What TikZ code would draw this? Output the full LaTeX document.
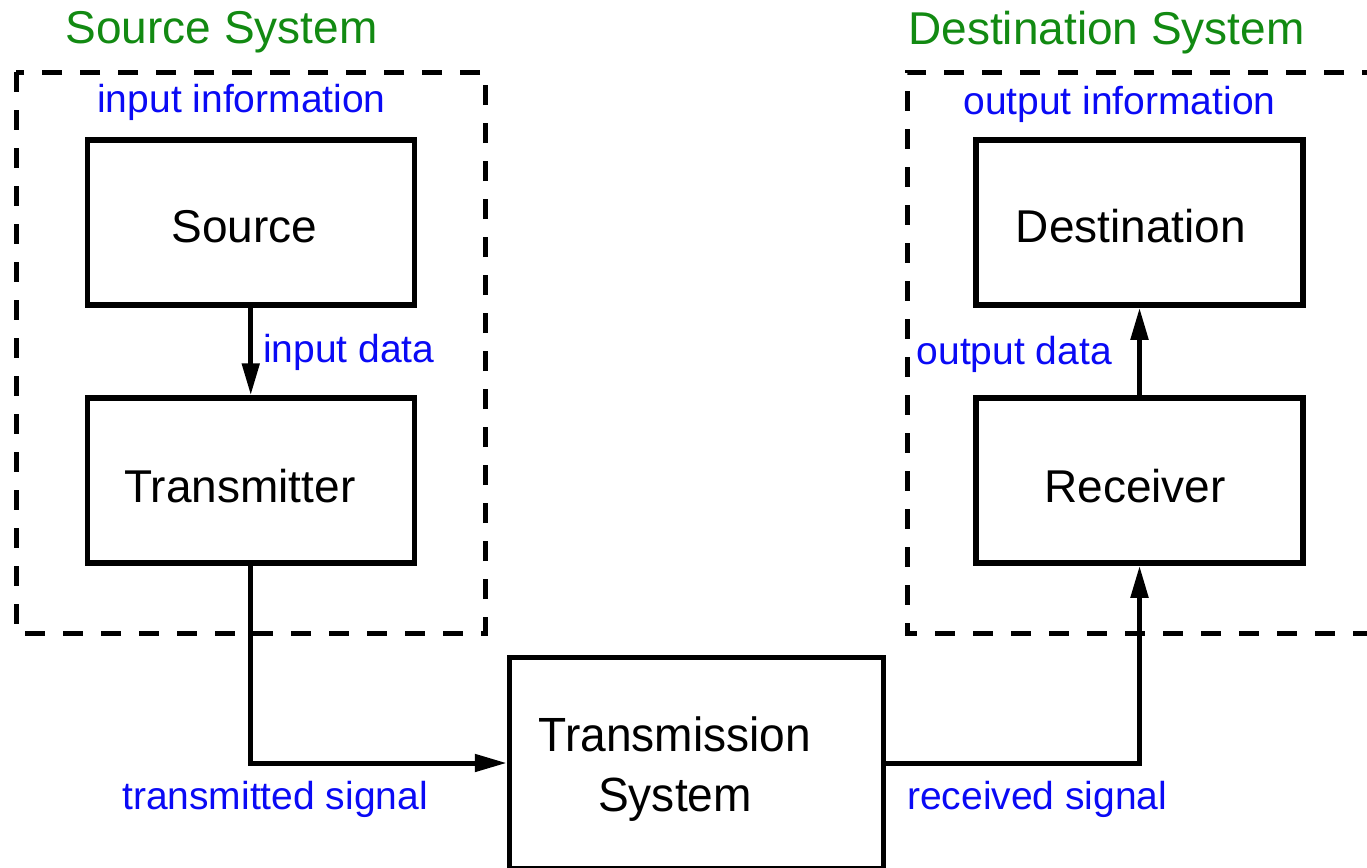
\documentclass[tikz,border=0pt]{standalone}
\usepackage{fontspec}
\setmainfont{Liberation Sans}
\usetikzlibrary{arrows.meta}

\definecolor{titlegreen}{RGB}{18,138,18}
\definecolor{labelblue}{RGB}{10,10,245}

\tikzset{
  frame/.style={draw=black, line width=5pt, dash pattern=on 20pt off 18pt},
  block/.style={draw=black, line width=5.5pt, rectangle, inner sep=0pt,
    minimum width=327pt, minimum height=165pt},
  blocktext/.style={inner sep=0pt, anchor=base, font=\fontsize{46}{55}\selectfont},
  title/.style={text=titlegreen, inner sep=0pt, font=\fontsize{46}{55}\selectfont},
  tag/.style={text=labelblue, inner sep=0pt, font=\fontsize{39}{47}\selectfont},
  conn/.style={draw=black, line width=5pt, -{Triangle[length=32pt,width=17pt]}}
}

\begin{document}
\begin{tikzpicture}[x=1pt, y=-1pt]
  \clip (0,0) rectangle (1367,867);
  \fill[white] (0,0) rectangle (1367,867);

  % dashed system frames
  \draw[frame] (16,72) rectangle (485,633);
  \draw[frame] (1420,72) -- (907,72) -- (907,633) -- (1420,633);

  % frame titles
  \node[title] (srcsys) at (221.5,32.5) {Source System};
  \node[title] (dstsys) at (1106.5,32.5) {Destination System};

  % blocks and their names
  \node[block] (src) at (250.75,222.5) {};
  \node[block] (tx)  at (250.75,480.5) {};
  \node[block] (dst) at (1139.5,222.5) {};
  \node[block] (rx)  at (1139.5,480.5) {};
  \node[block, minimum width=374pt, minimum height=211pt] (trans) at (696.5,763) {};

  \node[blocktext] (srcname) at (244.5,242) {Source};
  \node[blocktext] (txname)  at (240,502) {Transmitter};
  \node[blocktext] (dstname) at (1131,242) {Destination};
  \node[blocktext] (rxname)  at (1135,502) {Receiver};
  \node[inner sep=0pt, align=center, font=\fontsize{48}{60}\selectfont] (transname) at (675,769.5)
    {\scalebox{0.96}[1]{Transmission}\\\scalebox{0.96}[1]{System}};

  % blue labels
  \node[tag] (ininfo)  at (241.5,102.5) {input information};
  \node[tag] (outinfo) at (1119.5,104) {output information};
  \node[tag, anchor=west] (indata) at (263,352.5) {input data};
  \node[tag, anchor=east] (outdata) at (1112,354.5) {output data};
  \node[tag] (txsig) at (275,799) {transmitted signal};
  \node[tag, anchor=west] (rxsig) at (907,799) {received signal};

  % connectors
  \draw[conn] (src.south) -- (tx.north);
  \draw[conn] (tx.south) |- (trans.west);
  \draw[conn] (trans.east) -| (rx.south);
  \draw[conn] (rx.north) -- (dst.south);
\end{tikzpicture}
\end{document}
